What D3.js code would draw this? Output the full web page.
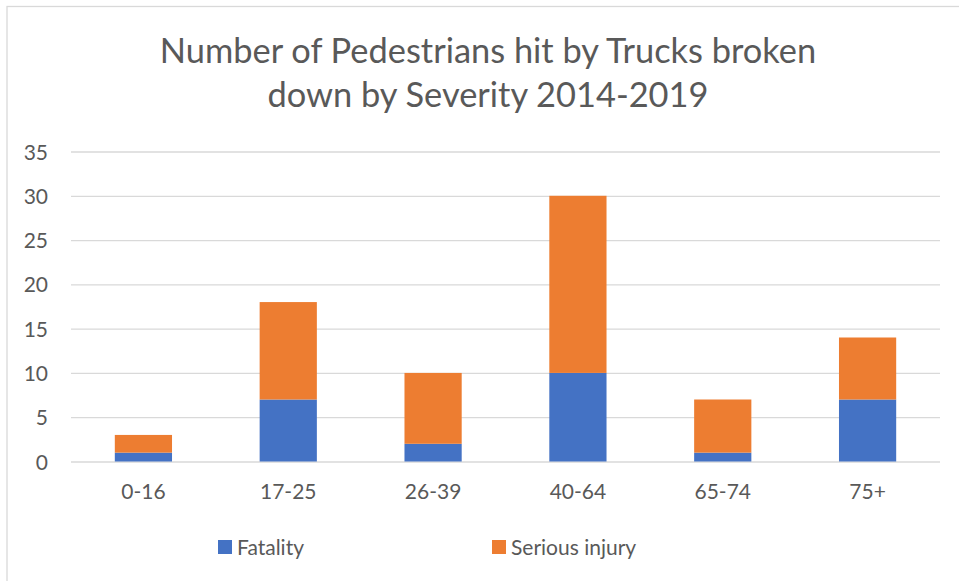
<!DOCTYPE html>
<html>
<head>
<meta charset="utf-8">
<script src="https://cdn.jsdelivr.net/npm/d3@7"></script>
<style>
	body { margin: 0; background: #fff; }
	text { font-family: Lato, "Open Sans", sans-serif; fill: #595959; }
	.grid line { stroke: #d9d9d9; stroke-width: 1.3; }
</style>
</head>
<body>
<script>
//chart data
var ageGroups = ["0-16", "17-25", "26-39", "40-64", "65-74", "75+"];
var fatality = [1, 7, 2, 10, 1, 7];
var seriousInjury = [2, 11, 8, 20, 6, 7];
var seriesNames = ["Fatality", "Serious injury"];
var yTicks = [0, 5, 10, 15, 20, 25, 30, 35];
var titleLines = ["Number of Pedestrians hit by Trucks broken", "down by Severity 2014-2019"];

//begin script when window loads
window.onload = drawChart();

function drawChart(){
	var width = 959,
		height = 581,
		left = 71,
		right = 940,
		top = 151.5,
		bottom = 461.5;

	var colors = ["#4472c4", "#ed7d31"];

	var svg = d3.select("body")
		.append("svg")
		.attr("width", width)
		.attr("height", height);

	//chart area border
	svg.append("rect")
		.attr("x", 7)
		.attr("y", 6.5)
		.attr("width", 1000)
		.attr("height", 1000)
		.attr("fill", "none")
		.attr("stroke", "#d9d9d9")
		.attr("stroke-width", 1.3);

	//title
	svg.append("text")
		.attr("x", 488)
		.attr("y", 63)
		.attr("text-anchor", "middle")
		.style("font-size", "34.4px")
		.selectAll("tspan")
		.data(titleLines)
		.enter()
		.append("tspan")
		.attr("x", 488)
		.attr("dy", function(d, i){ return i == 0 ? 0 : 43.5; })
		.text(function(d){ return d; });

	var x = d3.scaleBand()
		.domain(ageGroups)
		.range([left, right])
		.paddingInner(0.605)
		.paddingOuter(0.3025);

	var y = d3.scaleLinear()
		.domain([0, 35])
		.range([bottom, top]);

	//gridlines
	var grid = svg.append("g")
		.attr("class", "grid")
		.attr("transform", "translate(" + left + ",0)")
		.call(d3.axisLeft(y).tickValues(yTicks).tickSize(-(right - left)).tickFormat(""));
	grid.select(".domain").remove();

	//y axis labels
	var yAxis = svg.append("g")
		.attr("transform", "translate(48,0)")
		.call(d3.axisLeft(y).tickValues(yTicks).tickSize(0).tickPadding(0));
	yAxis.select(".domain").remove();
	yAxis.selectAll("text")
		.attr("dy", "0.36em")
		.style("font-size", "21px");

	//stacked bars
	var rows = ageGroups.map(function(g, i){
		return { group: g, "Fatality": fatality[i], "Serious injury": seriousInjury[i] };
	});
	var stacked = d3.stack().keys(seriesNames)(rows);

	svg.selectAll(".series")
		.data(stacked)
		.enter()
		.append("g")
		.attr("class", "series")
		.attr("fill", function(d, i){ return colors[i]; })
		.selectAll("rect")
		.data(function(d){ return d; })
		.enter()
		.append("rect")
		.attr("x", function(d){ return x(d.data.group); })
		.attr("width", x.bandwidth())
		.attr("y", function(d){ return y(d[1]); })
		.attr("height", function(d){ return y(d[0]) - y(d[1]); });

	//x axis labels
	var xAxis = svg.append("g")
		.attr("transform", "translate(0," + bottom + ")")
		.call(d3.axisBottom(x).tickSize(0).tickPadding(0));
	xAxis.select(".domain").remove();
	xAxis.selectAll("text")
		.attr("y", 37.5)
		.attr("dy", 0)
		.style("font-size", "21px");

	//legend
	var legendX = [218, 492];
	var legend = svg.selectAll(".legend")
		.data(seriesNames)
		.enter()
		.append("g")
		.attr("class", "legend")
		.attr("transform", function(d, i){ return "translate(" + legendX[i] + ",540)"; });
	legend.append("rect")
		.attr("width", 14)
		.attr("height", 14)
		.attr("fill", function(d, i){ return colors[i]; });
	legend.append("text")
		.attr("x", 19)
		.attr("y", 14.5)
		.style("font-size", "21px")
		.text(function(d){ return d; });
}
</script>
</body>
</html>
